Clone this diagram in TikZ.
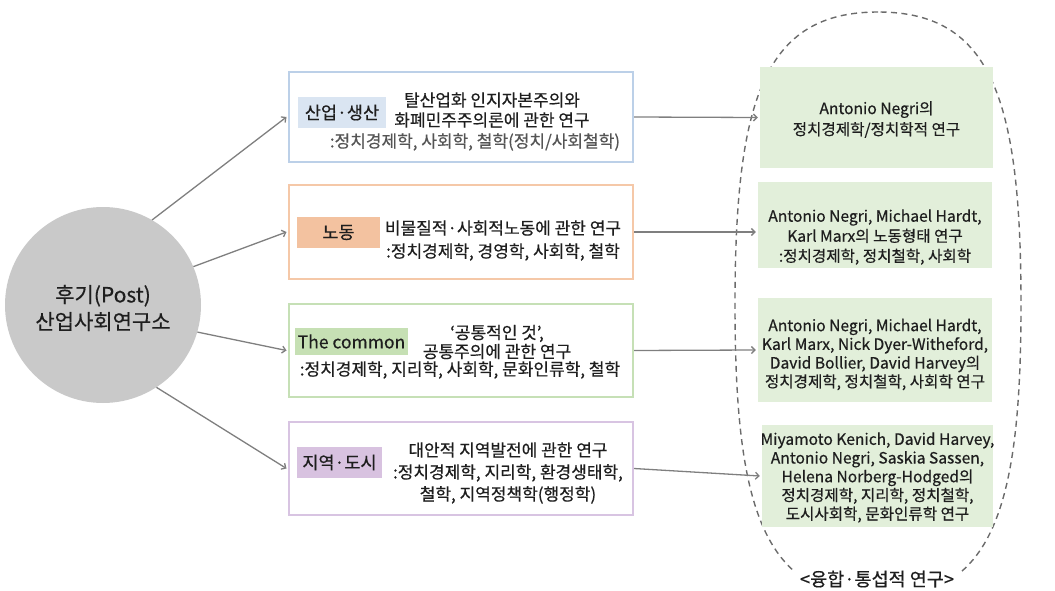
\documentclass[tikz,border=0pt]{standalone}
\usepackage{fontspec}
\setmainfont{Noto Sans CJK KR}[FakeBold=0.5]
\usetikzlibrary{arrows.meta}

\definecolor{linegray}{HTML}{7F7F7F}
\definecolor{dashgray}{HTML}{6B6B6B}
\definecolor{hubgray}{HTML}{C9C9C9}
\definecolor{ink}{HTML}{1E1E1E}
\definecolor{softink}{HTML}{555555}
\definecolor{blueedge}{HTML}{BCD0E8}
\definecolor{bluefill}{HTML}{DAE5F2}
\definecolor{orangeedge}{HTML}{F5C8A8}
\definecolor{orangefill}{HTML}{F3C2A0}
\definecolor{greenedge}{HTML}{C6E0B6}
\definecolor{greenfill}{HTML}{C6E0B4}
\definecolor{purpleedge}{HTML}{D8C4E2}
\definecolor{purplefill}{HTML}{D8C2E0}
\definecolor{paleGreen}{HTML}{E2EFDA}

\tikzset{
  fieldbox/.style={draw, line width=2pt, minimum width=344pt, inner sep=0pt},
  tagbox/.style={inner sep=0pt, text=ink, font=\fontsize{17.5}{20}\selectfont},
  titletext/.style={align=center, text=ink, inner sep=0pt, font=\fontsize{17}{20}\selectfont},
  subtext/.style={align=center, text=ink, inner sep=0pt, font=\fontsize{17}{20}\selectfont},
  resultbox/.style={fill=paleGreen, inner sep=0pt},
  resulttext/.style={align=center, text=ink, inner sep=0pt, font=\fontsize{15.6}{18.7}\selectfont},
  link/.style={draw=linegray, line width=1.3pt, -{Straight Barb[length=3.5pt,width=7pt]}},
}

\begin{document}
\begin{tikzpicture}[x=1pt,y=-1pt]
\useasboundingbox (0,0) rectangle (1055,591);
\clip (0,0) rectangle (1055,591);

% dashed oval grouping the research outputs
\draw[dashgray, line width=1.4pt, dash pattern=on 6pt off 4.5pt]
  (878,12) .. controls (764,12) and (735,100) .. (735,305)
  .. controls (735,510) and (764,598) .. (878,598)
  .. controls (992,598) and (1021,510) .. (1021,305)
  .. controls (1021,100) and (992,12) .. (878,12) -- cycle;

% central institute
\node[circle, fill=hubgray, minimum size=196pt, inner sep=0pt] (hub) at (103,305) {};
\node[align=center, text=ink, inner sep=0pt, font=\fontsize{21}{27}\selectfont] (hubtext) at (103,308)
  {후기(Post)\\산업사회연구소};

% research fields
\node[fieldbox, draw=blueedge, minimum height=90pt] (b1) at (461,117) {};
\node[tagbox, fill=bluefill, minimum width=88pt, minimum height=31pt] (tag1) at (342,112.5) {산업·생산};
\node[titletext] (t1) at (492,110) {탈산업화 인지자본주의와\\화폐민주주의론에 관한 연구};
\node[subtext, text=softink] (s1) at (475,142) {:정치경제학, 사회학, 철학(정치/사회철학)};

\node[fieldbox, draw=orangeedge, minimum height=94pt] (b2) at (461,232) {};
\node[tagbox, fill=orangefill, minimum width=83pt, minimum height=31pt] (tag2) at (338.5,232.5) {노동};
\node[titletext] (t2) at (503,228) {비물질적·사회적노동에 관한 연구};
\node[subtext] (s2) at (503,252) {:정치경제학, 경영학, 사회학, 철학};

\node[fieldbox, draw=greenedge, minimum height=93pt] (b3) at (461,350.5) {};
\node[tagbox, fill=greenfill, minimum width=113pt, minimum height=27pt] (tag3) at (351.5,341.5) {The common};
\node[titletext, font=\fontsize{17}{19}\selectfont] (t3) at (497,342) {‘공통적인 것’,\\공통주의에 관한 연구};
\node[subtext] (s3) at (460,370) {:정치경제학, 지리학, 사회학, 문화인류학, 철학};

\node[fieldbox, draw=purpleedge, minimum height=93pt] (b4) at (461,468.5) {};
\node[tagbox, fill=purplefill, minimum width=85pt, minimum height=31pt] (tag4) at (339.5,462.5) {지역·도시};
\node[titletext, font=\fontsize{17}{22}\selectfont] (t4) at (508,473)
  {대안적 지역발전에 관한 연구\\:정치경제학, 지리학, 환경생태학,\\철학, 지역정책학(행정학)};

% research outputs
\node[resultbox, minimum width=233pt, minimum height=101pt] (r1) at (876.5,117.5) {};
\node[resulttext, font=\fontsize{15.6}{21}\selectfont] (rt1) at (876.5,119.5)
  {Antonio Negri의\\정치경제학/정치학적 연구};

\node[resultbox, minimum width=234pt, minimum height=86pt] (r2) at (875,225) {};
\node[resulttext, font=\fontsize{15.6}{20}\selectfont] (rt2) at (875,237)
  {Antonio Negri, Michael Hardt,\\Karl Marx의 노동형태 연구\\:정치경제학, 정치철학, 사회학};

\node[resultbox, minimum width=234pt, minimum height=104pt] (r3) at (875,350) {};
\node[resulttext] (rt3) at (875,354.5)
  {Antonio Negri, Michael Hardt,\\Karl Marx, Nick Dyer-Witheford,\\David Bollier, David Harvey의\\정치경제학, 정치철학, 사회학 연구};

\node[resultbox, minimum width=231pt, minimum height=102pt] (r4) at (877.5,476) {};
\node[resulttext] (rt4) at (877.5,477.5)
  {Miyamoto Kenich, David Harvey,\\Antonio Negri, Saskia Sassen,\\Helena Norberg-Hodged의\\정치경제학, 지리학, 정치철학,\\도시사회학, 문화인류학 연구};

% caption of the oval
\node[fill=white, text=ink, inner xsep=6pt, minimum height=30pt, font=\fontsize{18.5}{20}\selectfont] (cap) at (877,579)
  {<융합·통섭적 연구>};

% connectors from the institute to the fields
\draw[link] (hub.60) -- ([xshift=-1.5pt]b1.west);
\draw[link] (hub.23) -- ([xshift=-1.5pt]b2.west);
\draw[link] (hub.-16) -- ([xshift=-1.5pt]b3.west);
\draw[link] (hub.-57) -- ([xshift=-1.5pt]b4.west);

% connectors from the fields to the outputs
\draw[link] (b1.east) -- ([xshift=-2pt]r1.west);
\draw[link] (b2.east) -- ([xshift=-2pt]b2.east -| r2.west);
\draw[link] (b3.east) -- ([xshift=-2pt]r3.west);
\draw[link] (b4.east) -- ([xshift=-2pt]r4.west);
\end{tikzpicture}
\end{document}
